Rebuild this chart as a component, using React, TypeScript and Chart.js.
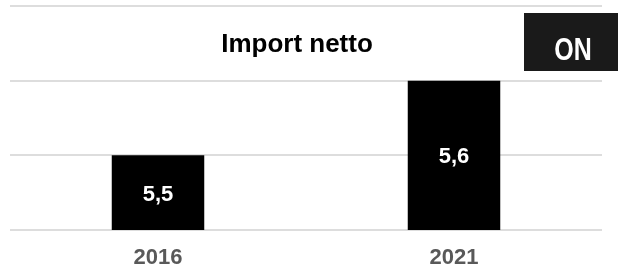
import React, { useEffect, useRef } from "react";
import { Chart, registerables } from "chart.js";

Chart.register(...registerables);

const categories: string[] = ["2016", "2021"];
const importNetto: number[] = [5.5, 5.6];
const axisMin = 5.4;
const axisMax = 5.7;
const axisStep = 0.1;
const chartTitle = "Import netto";
const badgeText = "ON";

const overlayPlugin = {
  id: "overlay",
  afterDraw(chart: any) {
    const ctx = chart.ctx;
    const area = chart.chartArea;
    ctx.save();
    // value labels
    const meta = chart.getDatasetMeta(0);
    ctx.fillStyle = "#ffffff";
    ctx.font = "bold 22px 'Liberation Sans', Arial, sans-serif";
    ctx.textAlign = "center";
    ctx.textBaseline = "middle";
    meta.data.forEach((bar: any, i: number) => {
      const p = bar.getProps(["x", "y", "base"], true);
      const v = importNetto[i];
      const txt = v.toFixed(1).replace(".", ",");
      const top = Math.max(p.y, area.top);
      const bottom = Math.min(p.base, area.bottom);
      const cy = (top + bottom) / 2;
      ctx.fillText(txt, p.x, cy + 2);
    });
    // title
    ctx.fillStyle = "#000000";
    ctx.font = "bold 26px 'Liberation Sans', Arial, sans-serif";
    ctx.textBaseline = "alphabetic";
    ctx.fillText(chartTitle, 297, 52);
    // badge
    ctx.fillStyle = "#1a1a1a";
    ctx.fillRect(524, 13, 94, 58);
    ctx.fillStyle = "#ffffff";
    ctx.font = "bold 32px 'Liberation Sans', Arial, sans-serif";
    ctx.translate(573, 60);
    ctx.scale(0.78, 1);
    ctx.fillText(badgeText, 0, 0);
    ctx.restore();
  },
};

export default function App() {
  const canvasRef = useRef<HTMLCanvasElement | null>(null);

  useEffect(() => {
    if (!canvasRef.current) return;
    const chart = new Chart(canvasRef.current, {
      type: "bar",
      data: {
        labels: categories,
        datasets: [
          {
            data: importNetto,
            backgroundColor: "#000000",
            borderWidth: 0,
            categoryPercentage: 1,
            barPercentage: 0.3125,
          },
        ],
      },
      options: {
        animation: false,
        responsive: false,
        maintainAspectRatio: false,
        layout: { padding: { left: 10, right: 16, top: 6, bottom: 0 } },
        plugins: {
          legend: { display: false },
          tooltip: { enabled: false },
          title: { display: false },
        },
        scales: {
          x: {
            grid: { display: false, drawTicks: false },
            border: { display: false },
            afterFit: (s: any) => {
              s.height = 39;
            },
            ticks: {
              color: "#595959",
              padding: 17,
              maxRotation: 0,
              font: { family: "'Liberation Sans', Arial, sans-serif", size: 22, weight: "bold", lineHeight: 1 },
            },
          },
          y: {
            min: axisMin,
            max: axisMax,
            ticks: { display: false, stepSize: axisStep },
            grid: { color: "#dddddd", lineWidth: 2, drawTicks: false },
            border: { display: false },
          },
        },
      },
      plugins: [overlayPlugin],
    });
    return () => chart.destroy();
  }, []);

  return (
    <div style={{ position: "absolute", left: 0, top: 0, width: 618, height: 269 }}>
      <canvas ref={canvasRef} width={618} height={269} style={{ display: "block" }} />
    </div>
  );
}
